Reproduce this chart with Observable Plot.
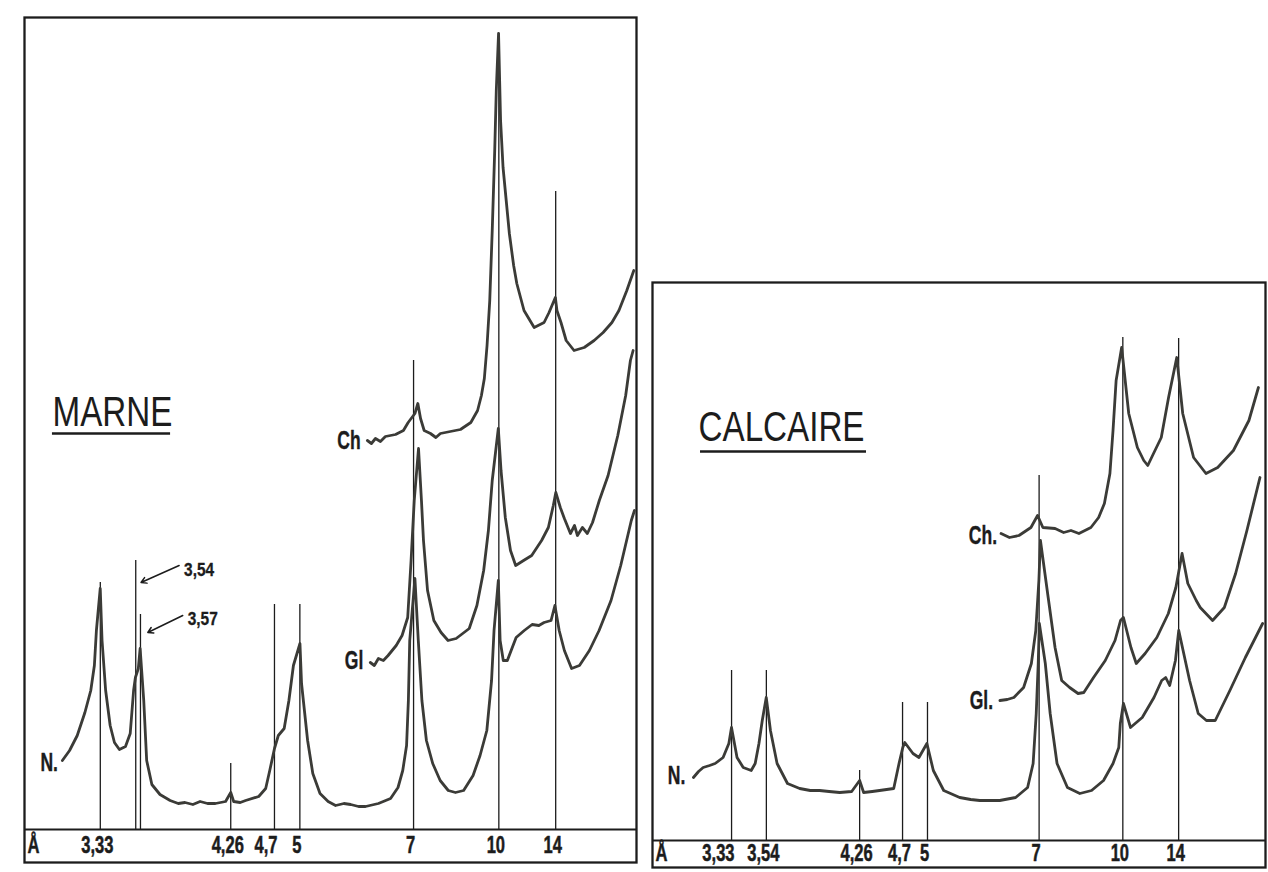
<!DOCTYPE html>
<html>
<head>
<meta charset="utf-8">
<script src="https://cdn.jsdelivr.net/npm/d3@7"></script>
<script src="https://cdn.jsdelivr.net/npm/@observablehq/plot@0.6"></script>
<style>
  html, body { margin: 0; padding: 0; background: #ffffff; }
  #page { position: relative; width: 1268px; height: 872px; overflow: hidden; background: #ffffff; }
  .panel { position: absolute; top: 0; }
</style>
</head>
<body>
<div id="page">
  <div id="marne" class="panel" style="left:0px"></div>
  <div id="calcaire" class="panel" style="left:640px"></div>
</div>
<script>
// ---------- DATA (x = 2θ in degrees, Cu Kα ; y = relative intensity) ----------
const LAMBDA = 1.5406; // Å, Cu Kα
const twoTheta = d => (180 / Math.PI) * LAMBDA / d; // 2θ (small-angle Bragg)

// MARNE panel
const marneLineD   = [3.33, 3.54, 3.57, 4.26, 4.7, 5, 7, 10, 14];
const marneLineTop = [24.7, 26.9, 21.5, 6.6, 22.5, 22.5, 46.9, 79.6, 63.8];
const marneTickD      = [3.33, 4.26, 4.7, 5, 7, 10, 14];
const marneTickLabels = ["3,33", "4,26", "4,7", "5", "7", "10", "14"];

const marneN = [
  [28.19,6.9],[27.87,7.9],[27.53,9.4],[27.19,11.7],[26.93,13.9],[26.77,16.4],[26.68,19.9],[26.51,24.1],
  [26.43,18.9],[26.27,13.9],[26.07,10.4],[25.88,8.7],[25.66,8.0],[25.39,8.3],[25.18,9.6],[25.10,11.9],
  [25.03,13.9],[24.95,15.2],[24.82,16.1],[24.74,18.1],[24.58,12.9],[24.45,6.9],[24.22,4.5],[23.86,3.5],
  [23.41,2.9],[23.05,2.6],[22.75,2.7],[22.40,2.5],[22.08,2.8],[21.75,2.6],[21.40,2.6],[20.95,2.8],[20.72,3.7],[20.59,2.8],[20.30,2.7],[20.06,2.9],
  [19.48,3.3],[19.17,4.1],[18.99,5.9],[18.78,8.1],[18.61,9.4],[18.35,10.1],[18.14,12.9],[17.94,16.4],
  [17.65,18.6],[17.58,14.6],[17.31,8.9],[17.08,5.6],[16.76,3.6],[16.40,2.8],[16.07,2.4],[15.70,2.6],[15.40,2.5],[15.05,2.3],[14.74,2.3],
  [14.17,2.6],[13.63,3.1],[13.30,4.2],[13.09,5.9],[12.92,8.4],[12.84,12.9],[12.78,18.9],[12.55,25.1],
  [12.40,18.9],[12.24,12.9],[12.04,8.9],[11.76,6.6],[11.43,4.9],[11.07,3.9],[10.75,3.7],[10.39,3.9],
  [9.97,5.4],[9.66,7.4],[9.36,9.9],[9.15,14.9],[9.04,19.9],[8.85,24.9],[8.77,18.9],[8.63,16.9],
  [8.45,16.9],[8.06,19.2],[7.70,19.9],[7.35,20.5],[7.05,20.4],[6.82,20.7],[6.51,20.9],[6.34,22.4],[6.15,19.9],
  [5.92,17.9],[5.60,16.1],[5.25,16.4],[4.81,17.9],[4.38,19.9],[3.85,22.9],[3.42,26.4],[2.95,30.9],[2.81,31.9]
];
const marneGl = [
  [14.53,16.7],[14.35,16.4],[14.17,17.1],[13.95,16.9],[13.74,17.4],[13.38,18.4],[13.12,19.4],[12.87,21.2],[12.72,26.9],[12.58,32.9],
  [12.39,38.1],[12.26,32.9],[12.17,28.9],[11.99,23.9],[11.71,20.9],[11.39,19.7],[11.08,18.9],[10.72,19.1],
  [10.14,20.1],[9.80,22.4],[9.50,25.9],[9.29,29.9],[9.12,34.9],[8.85,40.1],[8.73,35.9],[8.54,31.2],
  [8.31,27.9],[8.08,26.4],[7.73,26.9],[7.37,27.4],[6.93,28.9],[6.63,30.2],[6.41,32.4],[6.30,33.7],
  [6.10,32.2],[5.92,31.1],[5.65,29.6],[5.47,30.4],[5.34,29.4],[5.12,30.2],[4.90,29.6],[4.67,30.7],
  [4.37,32.9],[3.98,35.4],[3.55,39.4],[3.20,43.4],[2.99,46.9],[2.87,47.9]
];
const marneCh = [
  [14.66,38.9],[14.48,38.6],[14.30,39.1],[14.08,38.8],[13.86,39.3],[13.41,39.5],[13.06,39.9],[12.85,40.7],[12.55,41.6],[12.42,42.6],
  [12.30,41.1],[12.14,39.9],[11.86,39.6],[11.62,39.2],[11.42,39.6],[10.98,39.8],[10.53,40.0],[10.07,40.7],[9.77,41.9],
  [9.60,43.4],[9.47,45.1],[9.35,48.4],[9.23,52.9],[9.12,59.9],[9.01,67.9],[8.94,73.9],[8.84,79.6],
  [8.75,70.9],[8.64,66.2],[8.50,62.9],[8.36,59.6],[8.17,56.4],[8.03,54.6],[7.71,51.9],[7.26,50.2],
  [6.82,50.7],[6.60,51.7],[6.32,53.2],[6.25,51.9],[6.07,50.7],[5.84,48.9],[5.49,47.9],[5.04,48.2],
  [4.60,48.9],[4.20,49.7],[3.81,50.7],[3.50,51.9],[3.15,53.9],[2.84,55.9]
];

// CALCAIRE panel
const calcLineD   = [3.33, 3.54, 4.26, 4.7, 5, 7, 10, 14];
const calcLineTop = [17.0, 17.0, 7.0, 13.8, 13.8, 36.5, 50.3, 50.2];
const calcTickD      = [3.33, 3.54, 4.26, 4.7, 5, 7, 10, 14];
const calcTickLabels = ["3,33", "3,54", "4,26", "4,7", "5", "7", "10", "14"];

const calcN = [
  [28.23,6.3],[28.00,6.9],[27.79,7.3],[27.50,7.5],[27.25,7.7],[26.89,8.3],[26.63,9.7],[26.51,11.3],[26.26,8.3],[25.98,7.3],
  [25.62,7.0],[25.44,7.7],[25.27,9.7],[25.12,12.0],[24.94,14.3],[24.75,11.0],[24.45,7.7],[23.98,5.7],
  [23.43,5.2],[22.95,5.0],[22.53,5.0],[22.10,4.9],[21.62,4.8],[21.08,4.9],[20.72,6.0],[20.54,4.8],[20.15,4.9],[19.82,5.0],[19.18,5.2],
  [18.94,7.7],[18.77,9.3],[18.68,9.8],[18.31,8.7],[18.04,8.3],[17.68,9.7],[17.39,7.0],[16.92,5.0],
  [16.20,4.3],[15.70,4.1],[15.29,4.0],[14.85,4.0],[14.39,4.0],[13.67,4.3],[13.13,5.3],[12.88,7.7],[12.74,12.7],[12.65,17.7],
  [12.60,21.7],[12.33,17.7],[12.11,12.7],[11.80,7.7],[11.33,5.3],[10.77,4.7],[10.24,5.0],[9.70,6.0],
  [9.27,7.7],[9.01,9.3],[8.94,11.7],[8.80,13.7],[8.48,11.3],[7.95,12.3],[7.42,14.3],[7.07,16.0],
  [6.89,16.3],[6.71,15.5],[6.45,18.0],[6.30,21.0],[5.81,16.0],[5.42,12.7],[5.05,12.0],[4.65,12.0],
  [3.99,15.0],[3.29,18.3],[2.51,21.7]
];
const calcGl = [
  [14.38,14.0],[14.05,14.1],[13.75,14.3],[13.31,15.3],[12.96,17.7],[12.76,21.0],[12.62,26.0],[12.55,30.0],[12.20,24.3],
  [11.89,19.3],[11.59,16.0],[11.23,15.3],[10.85,14.7],[10.59,14.8],[10.15,16.3],[9.62,18.0],[9.18,20.0],
  [8.93,22.0],[8.80,22.3],[8.46,19.3],[8.22,17.7],[7.82,18.7],[7.29,20.3],[6.77,22.7],[6.43,25.3],
  [6.15,28.7],[5.89,25.7],[5.51,24.0],[5.33,23.3],[4.77,22.0],[4.24,23.3],[3.73,26.7],[3.22,31.0],[2.63,36.3]
];
const calcCh = [
  [14.33,30.7],[13.95,30.3],[13.52,30.5],[12.98,31.3],[12.68,32.5],[12.44,31.3],[11.89,31.2],[11.50,30.8],[11.17,31.0],[10.81,30.7],
  [10.27,31.3],[9.92,32.3],[9.66,33.7],[9.41,36.7],[9.27,41.0],[9.13,46.0],[8.88,49.3],[8.56,42.7],
  [8.17,39.3],[7.88,38.0],[7.70,37.5],[7.44,38.7],[7.09,40.3],[6.76,44.3],[6.39,48.3],[6.12,42.7],
  [5.63,38.3],[5.07,36.7],[4.54,37.3],[3.83,39.0],[3.13,42.0],[2.70,45.3]
];

// Annotations (positions in data units)
const marneCurveLabels = [["N.", 28.30, 6.7], ["Gl", 14.75, 16.9], ["Ch", 14.87, 38.9]];
const calcCurveLabels  = [["N.", 28.51, 6.5], ["Gl.", 14.60, 14.0], ["Ch.", 14.42, 30.5]];
const marneNotes  = [["3,54", 22.79, 25.9], ["3,57", 22.63, 21.0]];
const marneArrows = [[23.01, 26.4, 24.70, 24.7], [22.85, 21.4, 24.40, 19.7]];
const marneTitle  = ["MARNE", 25.97, 41.65, 28.63, 23.39, 39.6];
const calcTitle   = ["CALCAIRE", 24.25, 41.3, 27.91, 20.41, 38.9];

// ---------- DRAWING ----------
const INK = "#1c1c1c";
const TRACE = "#3b3b37";
const FONT = "'Liberation Sans', Arial, sans-serif";
// horizontal condensing of lettering (hand stencil is narrow), keyed by font size
const CONDENSE = {23: 0.72, 25: 0.7, 18: 0.86, 42: 0.79};

function toRows(name, arr) { return arr.map(([t, i]) => ({trace: name, t, i})); }

function panel(o) {
  const lines = o.lineD.map((d, k) => ({t: twoTheta(d), top: o.lineTop[k]}));
  const ticks = o.tickD.map((d, k) => ({t: twoTheta(d), label: o.tickLabels[k]}));
  const ticksMid = ticks.filter(d => !o.endLabels.includes(d.label));
  const ticksEnd = ticks.filter(d => o.endLabels.includes(d.label));
  const rows = o.traces.flatMap(([n, a]) => toRows(n, a));
  const labels = o.curveLabels.map(([text, t, i]) => ({text, t, i}));
  const [title, tt, ti, u1, u2, ui] = o.title;
  const tickFont = {fontFamily: FONT, fontWeight: "bold", fontSize: 23, fill: INK, stroke: INK, strokeWidth: 0.5};
  return Plot.plot({
    width: o.width, height: 872,
    marginLeft: o.ml, marginRight: o.mr, marginTop: o.mt, marginBottom: o.mb,
    x: {domain: o.xDomain, axis: null},
    y: {domain: o.yDomain, axis: null},
    style: {background: "transparent", overflow: "visible"},
    marks: [
      Plot.frame({stroke: INK, strokeWidth: 2.3}),
      Plot.ruleY([0], {stroke: INK, strokeWidth: 2.1}),
      Plot.ruleX(lines, {x: "t", y1: 0, y2: "top", stroke: INK, strokeWidth: 1.3}),
      Plot.line(rows, {x: "t", y: "i", z: "trace", stroke: TRACE, strokeWidth: 2.8, strokeLinejoin: "round"}),
      Plot.text(ticksMid, {x: "t", y: o.tickY, text: "label", dx: -3, ...tickFont}),
      Plot.text(ticksEnd, {x: "t", y: o.tickY, text: "label", textAnchor: "end", dx: 3, ...tickFont}),
      Plot.text(["Å"], {frameAnchor: "left", y: o.tickY, text: d => d, textAnchor: "start", dx: 3, ...tickFont}),
      Plot.text(labels, {x: "t", y: "i", text: "text", textAnchor: "end", dx: -2, fontFamily: FONT, fontWeight: "bold", fontSize: 25, fill: INK, stroke: INK, strokeWidth: 0.4}),
      Plot.text([title], {x: tt, y: ti, text: d => d, fontFamily: FONT, fontSize: 42, fill: INK}),
      Plot.ruleY([ui], {x1: u1, x2: u2, stroke: INK, strokeWidth: 2.6}),
      ...(o.notes ? [
        Plot.text(o.notes.map(([text, t, i]) => ({text, t, i})), {x: "t", y: "i", text: "text", textAnchor: "start", fontFamily: FONT, fontWeight: "bold", fontSize: 18, fill: INK, stroke: INK, strokeWidth: 0.3}),
        Plot.arrow(o.arrows.map(([a, b, c, e]) => ({a, b, c, e})), {x1: "a", y1: "b", x2: "c", y2: "e", stroke: INK, strokeWidth: 1.5, headLength: 6})
      ] : [])
    ]
  });
}

function condense(svg) {
  d3.select(svg).selectAll("text").each(function() {
    const size = Math.round(parseFloat(getComputedStyle(this).fontSize));
    const f = CONDENSE[size];
    if (!f) return;
    const w = this.getComputedTextLength();
    if (w > 0) {
      this.setAttribute("textLength", (w * f).toFixed(1));
      this.setAttribute("lengthAdjust", "spacingAndGlyphs");
    }
  });
}

const marneSvg = panel({
  width: 640, ml: 24, mr: 4, mt: 17, mb: 10,
  xDomain: [29.87, 2.72], yDomain: [-3.3, 81.2],
  lineD: marneLineD, lineTop: marneLineTop,
  tickD: marneTickD, tickLabels: marneTickLabels, endLabels: ["4,7"], tickY: -1.65,
  traces: [["N", marneN], ["Gl", marneGl], ["Ch", marneCh]],
  curveLabels: marneCurveLabels, title: marneTitle,
  notes: marneNotes, arrows: marneArrows
});
document.getElementById("marne").append(marneSvg);
condense(marneSvg);

const calcSvg = panel({
  width: 628, ml: 12, mr: 3, mt: 282, mb: 5,
  xDomain: [30.08, 2.38], yDomain: [-2.7, 55.8],
  lineD: calcLineD, lineTop: calcLineTop,
  tickD: calcTickD, tickLabels: calcTickLabels, endLabels: ["3,33"], tickY: -1.35,
  traces: [["N", calcN], ["Gl", calcGl], ["Ch", calcCh]],
  curveLabels: calcCurveLabels, title: calcTitle
});
document.getElementById("calcaire").append(calcSvg);
condense(calcSvg);
</script>
</body>
</html>
